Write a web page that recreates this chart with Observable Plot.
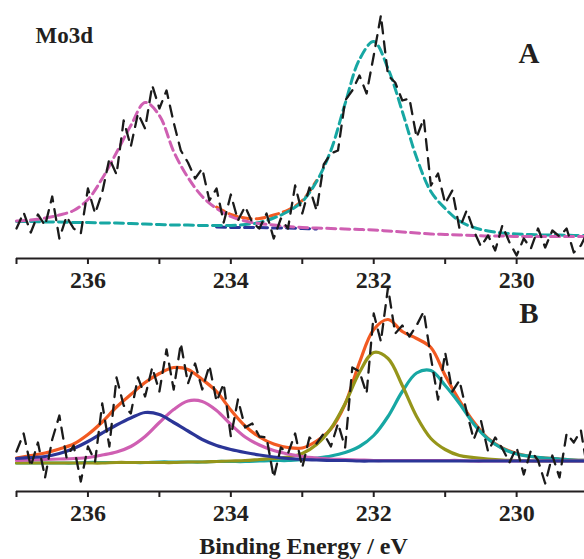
<!DOCTYPE html>
<html><head><meta charset="utf-8">
<script src="https://cdn.jsdelivr.net/npm/d3@7"></script>
<script src="https://cdn.jsdelivr.net/npm/@observablehq/plot@0.6"></script>
<style>body{margin:0;background:#fff} #chart svg{display:block}</style>
</head><body><div id="chart"></div>
<script>
// ---------- data ----------
const energyFit = [237.0,236.8,236.6,236.4,236.2,236.0,235.8,235.6,235.4,235.2,235.0,234.8,234.6,234.4,234.2,234.0,233.8,233.6,233.4,233.2,233.0,232.8,232.6,232.4,232.2,232.0,231.8,231.6,231.4,231.2,231.0,230.8,230.6,230.4,230.2,230.0,229.8,229.6,229.4,229.2,229.0];
const energyRaw = [237.0,236.9,236.8,236.7,236.6,236.5,236.4,236.3,236.2,236.1,236.0,235.9,235.8,235.7,235.6,235.5,235.4,235.3,235.2,235.1,235.0,234.9,234.8,234.7,234.6,234.5,234.4,234.3,234.2,234.1,234.0,233.9,233.8,233.7,233.6,233.5,233.4,233.3,233.2,233.1,233.0,232.9,232.8,232.7,232.6,232.5,232.4,232.3,232.2,232.1,232.0,231.9,231.8,231.7,231.6,231.5,231.4,231.3,231.2,231.1,231.0,230.9,230.8,230.7,230.6,230.5,230.4,230.3,230.2,230.1,230.0,229.9,229.8,229.7,229.6,229.5,229.4,229.3,229.2,229.1,229.0];
const tickValues = [237,236,235,234,233,232,231,230];
const majorTicks = [236,234,232,230];

// Panel A (intensity, arbitrary units)
const aRaw = [30,46,26,44,33,62,20,42,30,25, 70,45,66,100,84,138,112,145,130,173, 150,168,136,108,96,80,90,58,70,36, 64,38,52,36,30,45,20,40,30,73, 45,71,48,94,105,108,158,168,183,165, 203,243,183,176,158,160,121,140,73,85, 55,68,30,48,28,12,23,8,33,16, 3,20,10,30,11,28,22,30,6,13, 28];
const aBackground = [36,36,35.5,35.5,35,35,34.5,34.5,34,33.5, 33,32.5,32.5,32,31.5,31,31,31,30.5,30.5, 30,29.5,29,28.5,28,27.5,26.5,25.5,24.5,23.5, 23,22.5,22.5,22,22,22,22,22,22,22, 22];
const aPeak1 = [37.5,38.5,40.5,43.5,48,59,80,106,133,156, 143,107,81,62,50,42,37.5,35,33.5,32, 31,30.5,30,29.5,29,28.5,27.5,26.5,25.5,24.5, 24,23.5,23,22.5,22.5,22,22,22,22,22, 22];
const aPeak2 = [37,37,36.5,36.5,36,36,35.5,35.5,35,34.5, 34,33.5,33.5,33,33,33,34,36,40.5,47, 57,77,108,155,199,217,190,147,101,67, 50,37.5,31,27.5,25.5,24.5,24,23.5,23.5,23, 23];
const aEnvelope = [38.5,39.5,41.5,44.5,49,60,81,107,134,157, 144,108,82,63,51.5,44,40.5,40,43.5,48.5, 58,78,109,156,200,218,191,148,102,68, 51,38.5,31.5,28,26,24.5,24,23.5,23.5,23, 23];

// Panel B
const bRaw = [40,58,25,49,14,52,76,34,46,10, 45,30,88,45,114,86,78,114,95,124, 100,142,102,148,108,128,102,126,90,108, 55,92,64,68,55,54,14,44,38,58, 24,54,48,58,45,68,44,124,120,98, 178,150,204,158,166,155,166,180,134,92, 139,100,111,80,52,71,40,54,43,29, 44,17,41,31,8,36,14,58,49,61, 18];
const bEnvelope = [33.5,36,38.5,42.5,47.5,57,69.5,84.5,97,109, 118,124,122,112,100,81.5,65.5,54.5,47.5,44, 43.5,50.5,62.5,87.5,129,162,172,160,153,144, 116,91,69.5,53,43.5,38,35,33.5,32.5,31.5, 31];
const bPeak1 = [33,34,35,38,43,50,58.5,66.5,73.5,79, 77,69,60.5,52,46,42,39,36.5,34.5,33, 32,31.5,31,31,30.5,30.5,30.5,30.5,30.5,30.5, 30.5,30.5,30.5,30.5,30.5,30.5,30.5,30.5,30.5,30.5, 30.5];
const bPeak2 = [31,31.5,32,32.5,33,34,36.5,39.5,45,55, 69,82,90.5,90,81,67,54.5,46.5,41,37.5, 35,33.5,32.5,32,31.5,31,31,31,31,31, 31,31,30.5,30.5,30.5,30.5,30.5,30.5,30.5,30.5, 30.5];
const bPeak3 = [28.5,28.5,28.5,28.5,28.5,28.5,28.5,29,29,29, 29,29,29.5,29.5,30,30.5,31,32,33,34.5, 38,47,63,88,119,139,133,106,75,53, 42,36,34,32.5,31.5,31,30.5,30.5,30.5,30.5, 30.5];
const bPeak4 = [28.5,28.5,28.5,28.5,28.5,29,29,29,29,29, 29.5,29.5,29.5,29.5,30,30,30,30.5,31,31, 32,33.5,35.5,39,45,56,75,100,118.5,121, 106,88,67.5,52.5,43,37.5,35,33.5,32.5,31.5, 31];

const labelTitle = "Mo3d";
const labelA = "A", labelB = "B";
const xTitle = "Binding Energy / eV";

// ---------- styles ----------
const font = "'Liberation Serif','Times New Roman',serif";
const C = {magenta:"#cf5fb2", teal:"#17a7a3", orange:"#f25a22", navy:"#2b3597", olive:"#95951a", black:"#1b1b1b", ink:"#231f20"};

function axisMarks() {
  return [
    Plot.ruleY([0], {stroke: C.ink, strokeWidth: 2}),
    Plot.axisX({ticks: tickValues, tickFormat: d => majorTicks.includes(d) ? String(d) : "",
      tickSize: 6, tickPadding: 6, fontSize: 24, fontWeight: "bold", strokeWidth: 2})
  ];
}
const baseStyle = {overflow: "visible", fontFamily: font, color: C.ink, background: "transparent"};

// in panel A the envelope and background only show where they part from the two peak curves
const overlapZone = d => d <= 234.2 && d >= 232.8;

const fitLine = (vals, color, dash, w, filter) => Plot.line(energyFit, {x: d => d, y: vals, stroke: color, strokeWidth: w,
  curve: "catmull-rom", strokeDasharray: dash, filter});
const rawLine = vals => Plot.line(energyRaw, {x: d => d, y: vals, stroke: C.black, strokeWidth: 2.3,
  strokeDasharray: "11,8"});

const plotA = Plot.plot({
  width: 584, height: 290, marginLeft: 16, marginRight: 0, marginTop: 0, marginBottom: 32,
  style: baseStyle,
  x: {domain: [237, 229.05], axis: null},
  y: {domain: [0, 258], axis: null},
  marks: [
    fitLine(aEnvelope, C.orange, "9,5", 3, overlapZone),
    fitLine(aBackground, C.navy, "9,5", 3, overlapZone),
    fitLine(aPeak2, C.teal, "9,5", 3),
    fitLine(aPeak1, C.magenta, "9,5", 3),
    rawLine(aRaw),
    ...axisMarks(),
    Plot.text([labelTitle], {frameAnchor: "top-left", textAnchor: "start", dx: 19, dy: 26, fontSize: 23, fontWeight: "bold", fontFamily: font, fill: C.ink}),
    Plot.text([labelA], {frameAnchor: "top-right", textAnchor: "end", dx: -45, dy: 42, fontSize: 29, fontWeight: "bold", fontFamily: font, fill: C.ink})
  ]
});

const plotB = Plot.plot({
  width: 584, height: 269, marginLeft: 16, marginRight: 0, marginTop: 0, marginBottom: 68,
  style: baseStyle,
  x: {domain: [237, 229.05], axis: null},
  y: {domain: [0, 201], axis: null},
  marks: [
    fitLine(bEnvelope, C.orange, null, 3.2),
    fitLine(bPeak4, C.teal, null, 3.2),
    fitLine(bPeak3, C.olive, null, 3.2),
    fitLine(bPeak2, C.magenta, null, 3.2),
    fitLine(bPeak1, C.navy, null, 3.2),
    rawLine(bRaw),
    ...axisMarks(),
    Plot.text([labelB], {frameAnchor: "top-right", textAnchor: "end", dx: -46, dy: 12, fontSize: 29, fontWeight: "bold", fontFamily: font, fill: C.ink}),
    Plot.text([xTitle], {frameAnchor: "bottom", dx: 3, dy: 62, fontSize: 24, fontWeight: "bold", fontFamily: font, fill: C.ink})
  ]
});

const root = document.getElementById("chart");
root.append(plotA, plotB);
</script>
</body></html>
